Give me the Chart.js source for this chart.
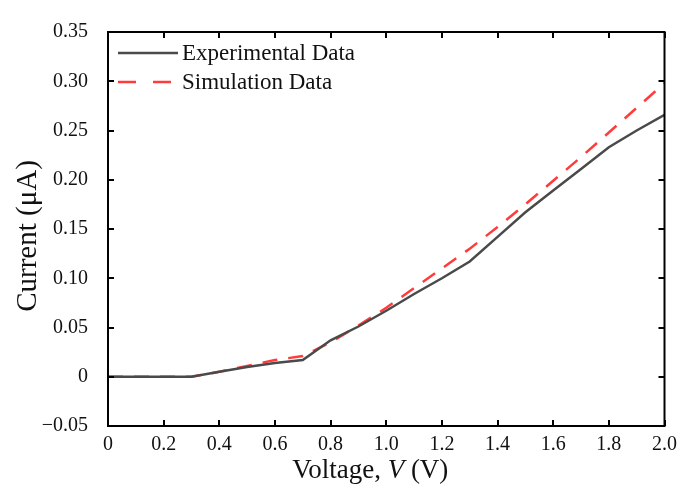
<!DOCTYPE html>
<html>
<head>
<meta charset="utf-8">
<script src="https://cdn.jsdelivr.net/npm/chart.js@4.4.1/dist/chart.umd.min.js"></script>
<style>
  html, body { margin: 0; padding: 0; background: #fff; }
  #wrap { width: 684px; height: 495px; }
</style>
</head>
<body>
<div id="wrap"><canvas id="iv-chart" width="684" height="495"></canvas></div>
<script>
// I-V sweep, 0 to 2 V in 0.1 V steps
const voltage = [0, 0.1, 0.2, 0.3, 0.4, 0.5, 0.6, 0.7, 0.8, 0.9, 1.0,
                 1.1, 1.2, 1.3, 1.4, 1.5, 1.6, 1.7, 1.8, 1.9, 2.0];
const experimental = [0, 0, 0, 0, 0.005, 0.010, 0.014, 0.017, 0.037, 0.051, 0.067,
                      0.084, 0.100, 0.117, 0.142, 0.167, 0.189, 0.211, 0.233, 0.250, 0.266];
const simulation = [0, 0, 0, 0, 0.005, 0.011, 0.017, 0.021, 0.035, 0.052, 0.070,
                    0.090, 0.110, 0.130, 0.152, 0.175, 0.199, 0.223, 0.248, 0.273, 0.298];
const xTicks = [0, 0.2, 0.4, 0.6, 0.8, 1.0, 1.2, 1.4, 1.6, 1.8, 2.0];
const yTicks = [-0.05, 0, 0.05, 0.10, 0.15, 0.20, 0.25, 0.30, 0.35];

const SERIF = '"Liberation Serif", "DejaVu Serif", serif';

const toPoints = ys => voltage.map((v, i) => ({ x: v, y: ys[i] }));

// frame, inward ticks, legend and axis titles
const framePlugin = {
    id: 'frame',
    afterDraw(chart) {
        const { ctx, chartArea: a, scales } = chart;
        const xs = scales.x, ys = scales.y;
        const tick = 6;
        ctx.save();
        ctx.strokeStyle = '#000';
        ctx.lineWidth = 2;
        ctx.strokeRect(a.left, a.top, a.right - a.left, a.bottom - a.top);

        ctx.beginPath();
        xTicks.forEach(v => {
            const px = Math.round(xs.getPixelForValue(v));
            ctx.moveTo(px, a.bottom); ctx.lineTo(px, a.bottom - tick);
            ctx.moveTo(px, a.top); ctx.lineTo(px, a.top + tick);
        });
        yTicks.forEach(v => {
            const py = Math.round(ys.getPixelForValue(v));
            ctx.moveTo(a.left, py); ctx.lineTo(a.left + tick, py);
            ctx.moveTo(a.right, py); ctx.lineTo(a.right - tick, py);
        });
        ctx.stroke();

        // legend in the upper left corner of the plot
        ctx.font = '23px ' + SERIF;
        ctx.textBaseline = 'middle';
        ctx.fillStyle = '#111';
        chart.data.datasets.forEach((ds, i) => {
            const y = a.top + 21 + i * 29;
            ctx.beginPath();
            ctx.strokeStyle = ds.borderColor;
            ctx.lineWidth = ds.borderWidth;
            ctx.setLineDash(ds.legendDash || ds.borderDash || []);
            ctx.moveTo(a.left + 10, y);
            ctx.lineTo(a.left + 70, y);
            ctx.stroke();
            ctx.setLineDash([]);
            ctx.fillText(ds.label, a.left + 74, y + 1);
        });

        // y axis title
        ctx.save();
        ctx.translate(28, 236);
        ctx.rotate(-Math.PI / 2);
        ctx.font = '29px ' + SERIF;
        ctx.textAlign = 'center';
        ctx.textBaseline = 'middle';
        ctx.fillText('Current (\u03BCA)', 0, 0);
        ctx.restore();

        // x axis title with italic symbol
        const parts = [
            { t: 'Voltage, ', f: '27px ' + SERIF },
            { t: 'V', f: 'italic 27px ' + SERIF },
            { t: ' (V)', f: '27px ' + SERIF }
        ];
        let total = 0;
        parts.forEach(p => { ctx.font = p.f; p.w = ctx.measureText(p.t).width; total += p.w; });
        let x = xs.getPixelForValue(1.0) - total / 2 - 16;
        ctx.textAlign = 'left';
        ctx.textBaseline = 'alphabetic';
        parts.forEach(p => { ctx.font = p.f; ctx.fillText(p.t, x, 478); x += p.w; });
        ctx.restore();
    }
};

const ctx = document.getElementById('iv-chart').getContext('2d');
new Chart(ctx, {
    type: 'line',
    data: {
        datasets: [{
            label: 'Experimental Data',
            data: toPoints(experimental),
            borderColor: '#4a4a4a',
            borderWidth: 2.5,
            pointRadius: 0,
            tension: 0
        }, {
            label: 'Simulation Data',
            data: toPoints(simulation),
            borderColor: '#ff3b3b',
            borderWidth: 2.5,
            borderDash: [15, 11],
            legendDash: [18, 17],
            pointRadius: 0,
            tension: 0
        }]
    },
    options: {
        responsive: false,
        animation: false,
        layout: { padding: { top: 23, right: 16, left: 0, bottom: 0 } },
        plugins: {
            legend: { display: false },
            tooltip: { enabled: false }
        },
        scales: {
            x: {
                type: 'linear',
                min: 0,
                max: 2.0,
                afterBuildTicks: s => { s.ticks = xTicks.map(v => ({ value: v })); },
                afterFit: s => { s.height = 69; },
                grid: { display: false, drawTicks: false },
                border: { display: false },
                ticks: {
                    padding: 7,
                    color: '#111',
                    font: { family: SERIF, size: 20 },
                    callback: v => v === 0 ? '0' : v.toFixed(1)
                }
            },
            y: {
                min: -0.05,
                max: 0.35,
                afterBuildTicks: s => { s.ticks = yTicks.map(v => ({ value: v })); },
                afterFit: s => { s.width = 108; },
                grid: { display: false, drawTicks: false },
                border: { display: false },
                ticks: {
                    padding: 20,
                    color: '#111',
                    font: { family: SERIF, size: 20 },
                    callback: v => {
                        const r = Math.round(v * 100) / 100;
                        if (r === 0) return '0';
                        if (r < 0) return '\u2212' + Math.abs(r).toFixed(2);
                        return r.toFixed(2);
                    }
                }
            }
        }
    },
    plugins: [framePlugin]
});
</script>
</body>
</html>
